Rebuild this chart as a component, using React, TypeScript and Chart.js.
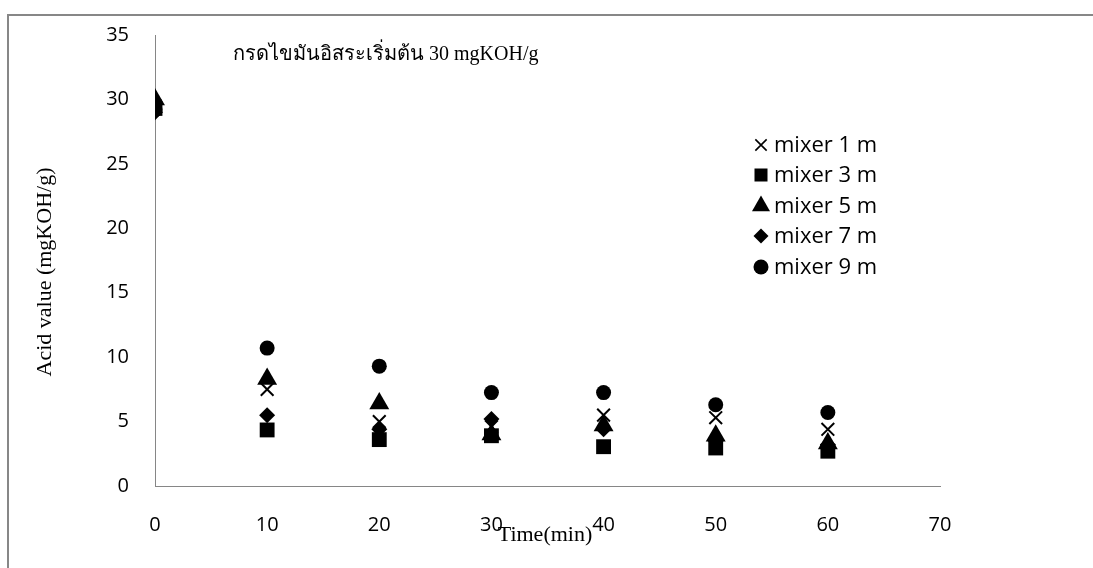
import React, { useEffect, useRef } from 'react';
import { Chart, registerables } from 'chart.js';
import { drawPoint } from 'chart.js/helpers';

Chart.register(...registerables);

// Sampling times (min)
const times = [0, 10, 20, 30, 40, 50, 60];

// Acid value (mgKOH/g) for each static-mixer length
const mixer1 = [29.5, 7.5, 5.0, 4.6, 5.5, 5.3, 4.4];
const mixer3 = [29.3, 4.35, 3.6, 3.9, 3.05, 2.95, 2.7];
const mixer5 = [30.0, 8.3, 6.4, 4.0, 4.7, 3.9, 3.3];
const mixer7 = [29.0, 5.5, 4.4, 5.2, 4.4, 3.5, 3.2];
const mixer9 = [29.2, 10.7, 9.3, 7.25, 7.25, 6.3, 5.7];

const seriesLabels = ['mixer 1 m', 'mixer 3 m', 'mixer 5 m', 'mixer 7 m', 'mixer 9 m'];
const seriesValues = [mixer1, mixer3, mixer5, mixer7, mixer9];
const seriesStyles = ['crossRot', 'rect', 'triangle', 'rectRot', 'circle'];
const seriesRadius = [9, 10.5, 11.5, 8, 7.5];
const legendRadius = [8, 9.2, 10.4, 7.5, 7.5];

const xMin = 0;
const xMax = 70;
const xStep = 10;
const yMin = 0;
const yMax = 35;
const yStep = 5;

const yTitle = 'Acid value (mgKOH/g)';
const xTitle = 'Time(min)';
const note = 'กรดไขมันอิสระเริ่มต้น 30 mgKOH/g';

const SANS = '"Open Sans"';
const SERIF = '"Liberation Serif", "Times New Roman", serif';

const textPlugin = {
  id: 'textLayer',
  afterDraw(chart: any) {
    const ctx = chart.ctx as CanvasRenderingContext2D;
    ctx.save();
    ctx.fillStyle = '#000';

    // axis titles
    ctx.font = `22px ${SERIF}`;
    ctx.textAlign = 'center';
    ctx.textBaseline = 'middle';
    ctx.fillText(xTitle, 545, 535);
    ctx.save();
    ctx.translate(45, 272);
    ctx.rotate(-Math.PI / 2);
    ctx.fillText(yTitle, 0, 0);
    ctx.restore();

    // note about the starting acid value
    ctx.font = `20px ${SERIF}`;
    ctx.textAlign = 'left';
    ctx.fillText(note, 233, 55);

    // legend
    const lx = 761;
    const rows = [145, 175, 206, 236, 267];
    ctx.font = `22px ${SANS}`;
    seriesLabels.forEach((label, i) => {
      ctx.fillStyle = '#000';
      ctx.strokeStyle = '#000';
      ctx.lineWidth = 1.6;
      drawPoint(
        ctx,
        {
          pointStyle: seriesStyles[i],
          radius: legendRadius[i],
          rotation: 0,
          borderWidth: seriesStyles[i] === 'crossRot' ? 1.6 : 0,
        } as any,
        lx,
        rows[i]
      );
      ctx.fillStyle = '#000';
      ctx.textAlign = 'left';
      ctx.textBaseline = 'middle';
      ctx.fillText(label, 774, rows[i] + 1);
    });
    ctx.restore();
  },
};

export default function App() {
  const canvasRef = useRef<HTMLCanvasElement | null>(null);

  useEffect(() => {
    if (!canvasRef.current) return;
    const datasets = seriesLabels.map((label, i) => ({
      label,
      data: times.map((t, j) => ({ x: t, y: seriesValues[i][j] })),
      pointStyle: seriesStyles[i],
      pointRadius: seriesRadius[i],
      pointHoverRadius: seriesRadius[i],
      backgroundColor: '#000',
      borderColor: '#000',
      borderWidth: seriesStyles[i] === 'crossRot' ? 2 : 0,
      showLine: false,
      order: seriesLabels.length - i,
    }));

    const chart = new Chart(canvasRef.current, {
      type: 'scatter',
      data: { datasets },
      options: {
        responsive: false,
        animation: false,
        devicePixelRatio: 1,
        layout: { padding: { top: 35, right: 153, left: 0, bottom: 0 } },
        plugins: {
          legend: { display: false },
          tooltip: { enabled: false },
          title: { display: false },
        },
        scales: {
          x: {
            type: 'linear',
            min: xMin,
            max: xMax,
            afterFit: (s: any) => {
              s.height = 82;
            },
            ticks: {
              stepSize: xStep,
              color: '#000',
              padding: 19,
              maxRotation: 0,
              font: { family: SANS, size: 20 },
            },
            grid: { display: false },
            border: { display: true, color: '#868686', width: 1 },
          },
          y: {
            type: 'linear',
            min: yMin,
            max: yMax,
            afterFit: (s: any) => {
              s.width = 155;
            },
            ticks: {
              stepSize: yStep,
              color: '#000',
              padding: 18,
              font: { family: SANS, size: 20 },
            },
            grid: { display: false },
            border: { display: true, color: '#868686', width: 1 },
          },
        },
      },
      plugins: [textPlugin],
    });
    return () => chart.destroy();
  }, []);

  return (
    <div
      style={{
        position: 'fixed',
        left: 0,
        top: 0,
        width: 1093,
        height: 568,
        background: '#fff',
        overflow: 'hidden',
      }}
    >
      <div
        style={{
          position: 'absolute',
          left: 7,
          top: 14,
          width: 1200,
          height: 700,
          borderLeft: '2px solid #878787',
          borderTop: '2px solid #878787',
        }}
      />
      <canvas
        ref={canvasRef}
        width={1093}
        height={568}
        style={{ position: 'absolute', left: 0, top: 0, width: 1093, height: 568 }}
      />
    </div>
  );
}
